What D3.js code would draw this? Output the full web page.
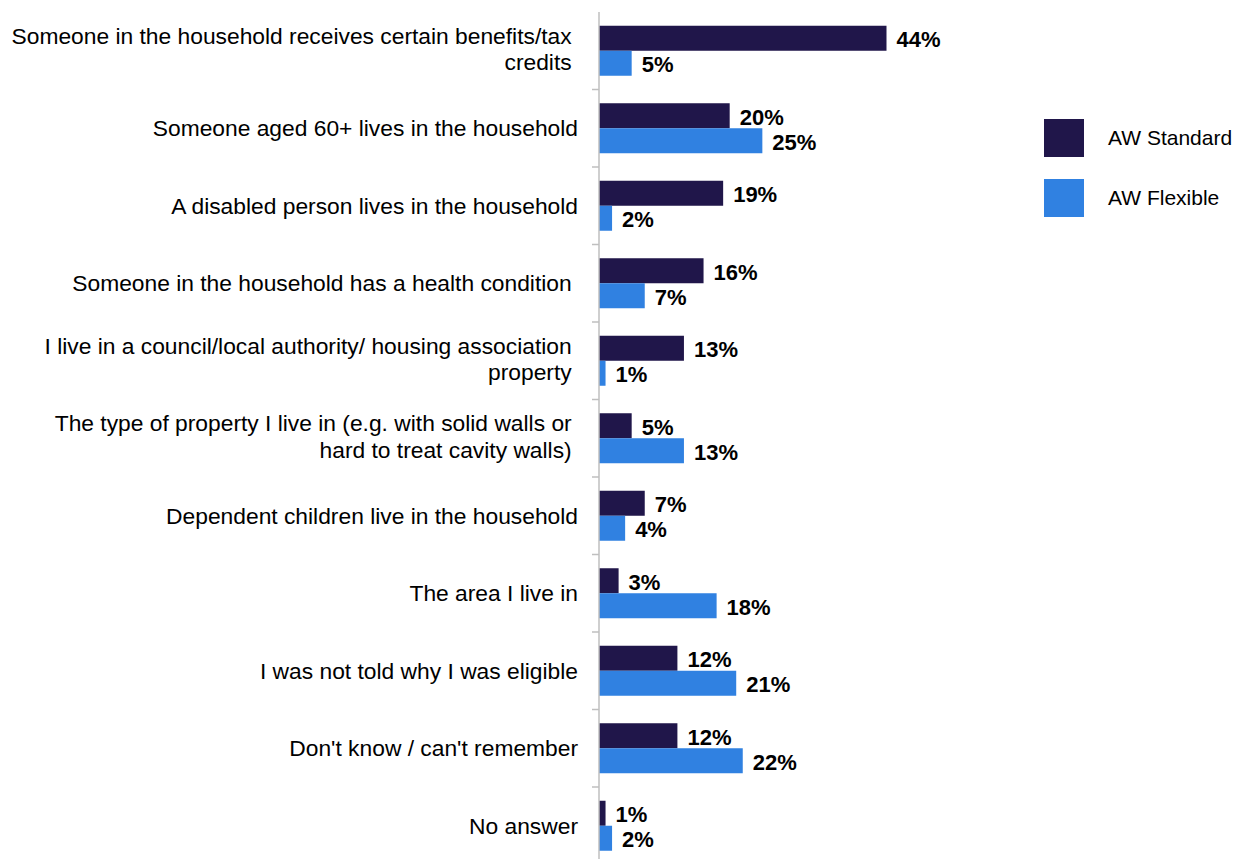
<!DOCTYPE html>
<html>
<head>
<meta charset="utf-8">
<script src="https://cdn.jsdelivr.net/npm/d3@7"></script>
<style>
  body { margin: 0; background: #fff; }
  text { font-family: "Liberation Sans", Arial, sans-serif; }
</style>
</head>
<body>
<div id="chart"></div>
<script>
// category labels, already wrapped as in the original (trailing spaces kept)
var categories = [
    ["Someone in the household receives certain benefits/tax ", "credits "],
    ["Someone aged 60+ lives in the household"],
    ["A disabled person lives in the household"],
    ["Someone in the household has a health condition "],
    ["I live in a council/local authority/ housing association ", "property "],
    ["The type of property I live in (e.g. with solid walls or ", "hard to treat cavity walls) "],
    ["Dependent children live in the household"],
    ["The area I live in"],
    ["I was not told why I was eligible"],
    ["Don't know / can't remember"],
    ["No answer"]
];
var seriesNames = ["AW Standard", "AW Flexible"];
var standardValues = [44, 20, 19, 16, 13, 5, 7, 3, 12, 12, 1];
var flexibleValues = [5, 25, 2, 7, 1, 13, 4, 18, 21, 22, 2];

var colors = {"AW Standard": "#20164a", "AW Flexible": "#3081e1"};

var width = 1241,
    height = 859;
var axisX = 599;

var svg = d3.select("#chart")
    .append("svg")
        .attr("width", width)
        .attr("height", height);

var keys = categories.map(function(d, i) { return i; });

var y = d3.scaleBand()
    .domain(keys)
    .range([12, 864.5]);

var ySub = d3.scaleBand()
    .domain(seriesNames)
    .range([0, y.bandwidth()])
    .paddingInner(0)
    .paddingOuter(0.55);

var x = d3.scaleLinear()
    .domain([0, 44])
    .range([axisX, 886.5]);

var rows = [];
keys.forEach(function(i) {
    rows.push({cat: i, series: "AW Standard", value: standardValues[i]});
    rows.push({cat: i, series: "AW Flexible", value: flexibleValues[i]});
});

// bars
svg.selectAll("rect.bar")
    .data(rows)
    .enter()
    .append("rect")
    .attr("class", "bar")
    .attr("x", x(0))
    .attr("y", function(d) { return y(d.cat) + ySub(d.series); })
    .attr("width", function(d) { return x(d.value) - x(0); })
    .attr("height", ySub.bandwidth())
    .attr("fill", function(d) { return colors[d.series]; });

// value labels
svg.selectAll("text.val")
    .data(rows)
    .enter()
    .append("text")
    .attr("class", "val")
    .attr("x", function(d) { return x(d.value) + 10; })
    .attr("y", function(d) { return y(d.cat) + ySub(d.series) + ySub.bandwidth() / 2 + 1.5; })
    .attr("dy", "0.35em")
    .style("font-size", "22px")
    .style("font-weight", "bold")
    .style("fill", "#000")
    .text(function(d) { return d.value + "%"; });

// vertical axis with ticks between categories
var axis = d3.axisLeft(y)
    .tickSize(0)
    .tickFormat("");

var gAxis = svg.append("g")
    .attr("transform", "translate(" + axisX + ",0)")
    .call(axis);
gAxis.select(".domain")
    .attr("stroke", "#bfbfbf")
    .attr("stroke-width", 1.5)
    .attr("d", "M0," + y.range()[0] + "V" + y.range()[1]);

gAxis.selectAll("line.sep")
    .data(keys.slice(1))
    .enter()
    .append("line")
    .attr("class", "sep")
    .attr("x1", -7)
    .attr("x2", 0)
    .attr("y1", function(d) { return y(d); })
    .attr("y2", function(d) { return y(d); })
    .attr("stroke", "#bfbfbf")
    .attr("stroke-width", 1.5);

// category labels
var lineHeight = 26.5;
var labels = svg.selectAll("text.cat")
    .data(keys)
    .enter()
    .append("text")
    .attr("class", "cat")
    .attr("text-anchor", "end")
    .attr("xml:space", "preserve")
    .style("white-space", "pre")
    .style("font-size", "22.8px")
    .style("fill", "#000");

labels.each(function(i) {
    var lines = categories[i];
    var cy = y(i) + y.bandwidth() / 2;
    var start = cy - (lines.length - 1) * lineHeight / 2 - (lines.length > 1 ? 1.5 : 0);
    d3.select(this).selectAll("tspan")
        .data(lines)
        .enter()
        .append("tspan")
        .attr("x", 578)
        .attr("y", function(d, j) { return start + j * lineHeight; })
        .attr("dy", "0.35em")
        .text(function(d) { return d; });
});

// legend
var legend = svg.selectAll("g.legend")
    .data(seriesNames)
    .enter()
    .append("g")
    .attr("class", "legend")
    .attr("transform", function(d, i) { return "translate(1044," + (119 + i * 60) + ")"; });

legend.append("rect")
    .attr("width", 40)
    .attr("height", 38)
    .attr("fill", function(d) { return colors[d]; });

legend.append("text")
    .attr("x", 64)
    .attr("y", 19)
    .attr("dy", "0.35em")
    .style("font-size", "21px")
    .style("fill", "#000")
    .text(function(d) { return d; });
</script>
</body>
</html>
